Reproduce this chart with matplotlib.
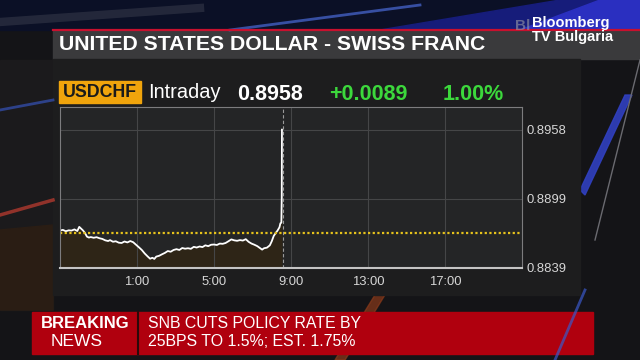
import matplotlib
matplotlib.use('Agg')
import matplotlib.pyplot as plt
from matplotlib.patches import Rectangle, Polygon

# USDCHF intraday, hours relative to midnight (negative = previous evening)
times = [-3.00, -2.85, -2.70, -2.55, -2.40, -2.25, -2.10, -2.00, -1.90, -1.80,
         -1.70, -1.60, -1.50, -1.40, -1.25, -1.10, -0.95, -0.80, -0.65, -0.50,
         -0.40, -0.25, -0.10, 0.05, 0.20, 0.35, 0.50, 0.65, 0.80, 0.95,
         1.10, 1.25, 1.40, 1.55, 1.68, 1.80, 1.90, 2.00, 2.15, 2.30,
         2.45, 2.60, 2.75, 2.90, 3.05, 3.20, 3.35, 3.50, 3.65, 3.80,
         3.95, 4.10, 4.25, 4.40, 4.55, 4.70, 4.85, 5.00, 5.15, 5.30,
         5.45, 5.60, 5.75, 5.90, 6.05, 6.20, 6.35, 6.50, 6.65, 6.80,
         6.95, 7.10, 7.25, 7.40, 7.50, 7.60, 7.75, 7.90, 8.00, 8.10,
         8.20, 8.30, 8.40, 8.45, 8.50, 8.52, 8.53]
prices = [0.88712, 0.88718, 0.88706, 0.88714, 0.88712, 0.88722, 0.88708, 0.88744, 0.88728, 0.88712,
          0.88690, 0.88660, 0.88652, 0.88656, 0.88650, 0.88655, 0.88646, 0.88640, 0.88628, 0.88622,
          0.88630, 0.88616, 0.88620, 0.88608, 0.88605, 0.88618, 0.88610, 0.88622, 0.88612, 0.88590,
          0.88568, 0.88545, 0.88515, 0.88490, 0.88470, 0.88478, 0.88468, 0.88488, 0.88495, 0.88508,
          0.88520, 0.88536, 0.88530, 0.88545, 0.88552, 0.88545, 0.88562, 0.88556, 0.88560, 0.88555,
          0.88572, 0.88566, 0.88575, 0.88570, 0.88585, 0.88578, 0.88590, 0.88592, 0.88588, 0.88600,
          0.88598, 0.88605, 0.88620, 0.88636, 0.88628, 0.88624, 0.88630, 0.88626, 0.88638, 0.88615,
          0.88600, 0.88590, 0.88578, 0.88560, 0.88548, 0.88560, 0.88565, 0.88585, 0.88620, 0.88665,
          0.88690, 0.88712, 0.88740, 0.88775, 0.88780, 0.89000, 0.89580]
prev_close = 0.8869
now_time = 8.58
x_ticks = [1, 5, 9, 13, 17]
x_labels = ['1:00', '5:00', '9:00', '13:00', '17:00']
y_ticks = [0.8839, 0.88985, 0.8958]
y_labels = ['0.8839', '0.8899', '0.8958']

ticker = 'USDCHF'
last_px = '0.8958'
change = '+0.0089'
pct = '1.00%'
title = 'UNITED STATES DOLLAR - SWISS FRANC'
news_head = ['BREAKING', 'NEWS']
news_text = ['SNB CUTS POLICY RATE BY', '25BPS TO 1.5%; EST. 1.75%']

plt.rcParams['font.family'] = ['Liberation Sans', 'DejaVu Sans']

fig = plt.figure(figsize=(6.4, 3.6), dpi=100)
fig.patch.set_facecolor('#141417')

# background layer in pixel coords
bg = fig.add_axes([0, 0, 1, 1])
bg.set_xlim(0, 640)
bg.set_ylim(360, 0)
bg.axis('off')
bg.add_patch(Rectangle((0, 0), 640, 30, color='#0b1026'))
bg.add_patch(Polygon([(380, 30), (560, 0), (640, 0), (640, 30)], color='#161c7a'))
bg.add_patch(Polygon([(520, 30), (600, 0), (640, 0), (640, 30)], color='#2a2fc0'))
bg.plot([230, 420], [30, 5], color='#4a6ad8', lw=2, alpha=0.7)
bg.plot([0, 200], [22, 8], color='#2a2e40', lw=6, alpha=0.8)
bg.add_patch(Rectangle((0, 60), 53, 250, color='#1b1a1c'))
bg.plot([0, 53], [110, 100], color='#3552b8', lw=2, alpha=0.7)
bg.plot([0, 53], [215, 200], color='#b0392e', lw=2.5, alpha=0.8)
bg.add_patch(Polygon([(0, 230), (53, 225), (53, 310), (0, 310)], color='#2a1d14'))
bg.add_patch(Polygon([(335, 360), (345, 360), (388, 290), (378, 290)], color='#8a3a1a', alpha=0.7))
bg.plot([555, 585], [360, 290], color='#3a58c8', lw=2, alpha=0.7)
bg.add_patch(Polygon([(580, 190), (625, 95), (632, 95), (585, 195)], color='#3040c0', alpha=0.9))
bg.plot([595, 640], [240, 60], color='#6a6a70', lw=1)

# title bar and chart panel
bg.add_patch(Rectangle((53, 30), 587, 29, color='#3a3a3c'))
bg.plot([53, 640], [30, 30], color='#c8102e', lw=1.6)
bg.add_patch(Rectangle((53, 59), 527, 236, color='#1d1d1e'))
bg.text(59, 45, title, color='white', fontsize=15.3, fontweight='bold', va='center')

# logo
bg.text(515, 26, 'Bl', color='#9a9aa6', fontsize=11, fontweight='bold', va='center', alpha=0.6)
bg.text(532, 23, 'Bloomberg', color='white', fontsize=10.5, fontweight='bold', va='center')
bg.text(532, 37, 'TV Bulgaria', color='white', fontsize=10.5, fontweight='bold', va='center')

# header row
bg.add_patch(Rectangle((59, 81), 82, 22, color='#f0a40c'))
bg.text(100, 92.5, ticker, color='#1a1a1a', fontsize=12.8, fontweight='bold',
        ha='center', va='center')
bg.text(148, 93, 'Intraday', color='white', fontsize=14.4, va='center')
bg.text(237, 94, last_px, color='white', fontsize=15.5, fontweight='bold', va='center')
bg.text(329, 94, change, color='#3cd83c', fontsize=15.5, fontweight='bold', va='center')
bg.text(443, 94, pct, color='#3cd83c', fontsize=15.5, fontweight='bold', va='center')

# breaking news bar
bg.add_patch(Rectangle((32, 312), 561, 42, color='#b0000e'))
bg.plot([138, 138], [312, 354], color='#2a0a0a', lw=1.5)
bg.text(85.5, 324, news_head[0], color='white', fontsize=12, fontweight='bold',
        ha='center', va='center')
bg.text(77, 341.5, news_head[1], color='white', fontsize=12.5, ha='center', va='center')
bg.text(148, 324, news_text[0], color='white', fontsize=11.4, va='center')
bg.text(148, 341.5, news_text[1], color='white', fontsize=11.4, va='center')

# chart
ax = fig.add_axes([60 / 640, 1 - 268 / 360, 462 / 640, 161 / 360])
ax.set_facecolor('#242526')
ax.set_xlim(-3, 21)
ax.set_ylim(0.8839, 0.89775)
ax.fill_between(times, prices, 0.8839, color='#2e2517', lw=0)
ax.plot(times, prices, color='white', lw=1.3, solid_joinstyle='round')
ax.axhline(prev_close, color='#e6c21c', lw=1.6, linestyle=(0, (1, 1.1)))
ax.axvline(now_time, color='#9a9a9a', lw=0.8, linestyle=(0, (3, 2)))
ax.set_xticks(x_ticks)
ax.set_xticklabels(x_labels)
ax.set_yticks(y_ticks)
ax.set_yticklabels(y_labels)
ax.grid(True, color='#454647', lw=0.8)
ax.yaxis.tick_right()
ax.tick_params(length=0, colors='#d6d6d6', labelsize=9.4)
ax.tick_params(axis='x', pad=6)
ax.tick_params(axis='y', pad=3)
for side in ['left', 'top', 'right']:
    ax.spines[side].set_color('#7c7c7e')
    ax.spines[side].set_linewidth(0.8)
ax.spines['bottom'].set_color('#c4c4c4')
ax.spines['bottom'].set_linewidth(1.5)

fig.savefig('out.png', dpi=100, facecolor=fig.get_facecolor())
